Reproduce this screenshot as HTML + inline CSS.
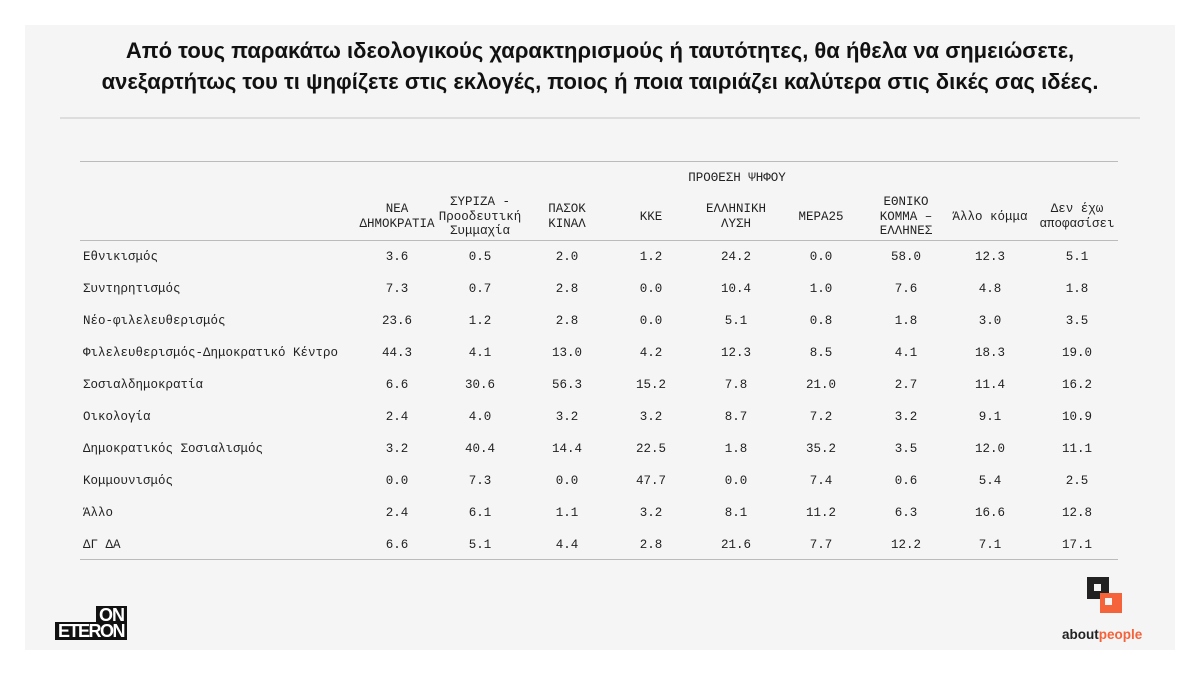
<!DOCTYPE html>
<html><head><meta charset="utf-8"><style>
body{margin:0;width:1200px;height:675px;background:#fff;position:relative;overflow:hidden;font-family:"Liberation Mono","DejaVu Sans Mono",monospace;color:#222}
.panel{position:absolute;left:25px;top:25px;width:1150px;height:625px;background:#f5f5f5}
.title{position:absolute;left:0;width:1200px;top:35px;text-align:center;font-family:"Liberation Sans",sans-serif;font-weight:bold;font-size:22px;line-height:31px;color:#111}
.hl{position:absolute;height:1px;background:#bbb}
.c{position:absolute;font-size:12.5px;text-align:center;line-height:14.5px;white-space:nowrap;transform:translateX(-50%)}
.l{position:absolute;left:83px;font-size:12.5px;white-space:nowrap}
</style></head><body>
<div class="panel"></div>
<div class="title">Από τους παρακάτω ιδεολογικούς χαρακτηρισμούς ή ταυτότητες, θα ήθελα να σημειώσετε,<br>ανεξαρτήτως του τι ψηφίζετε στις εκλογές, ποιος ή ποια ταιριάζει καλύτερα στις δικές σας ιδέες.</div>
<div class="hl" style="left:60px;width:1080px;top:117px;height:2px;background:#ddd"></div>
<div class="hl" style="left:80px;width:1038px;top:161px"></div>
<div class="hl" style="left:80px;width:1038px;top:240px"></div>
<div class="hl" style="left:80px;width:1038px;top:559px"></div>
<div class="c" style="left:737px;top:171px">ΠΡΟΘΕΣΗ ΨΗΦΟΥ</div>
<div class="c" style="left:397px;top:202px">ΝΕΑ<br>ΔΗΜΟΚΡΑΤΙΑ</div>
<div class="c" style="left:480px;top:195px">ΣΥΡΙΖΑ -<br>Προοδευτική<br>Συμμαχία</div>
<div class="c" style="left:567px;top:202px">ΠΑΣΟΚ<br>ΚΙΝΑΛ</div>
<div class="c" style="left:651px;top:210px">ΚΚΕ</div>
<div class="c" style="left:736px;top:202px">ΕΛΛΗΝΙΚΗ<br>ΛΥΣΗ</div>
<div class="c" style="left:821px;top:210px">ΜΕΡΑ25</div>
<div class="c" style="left:906px;top:195px">ΕΘΝΙΚΟ<br>ΚΟΜΜΑ –<br>ΕΛΛΗΝΕΣ</div>
<div class="c" style="left:990px;top:210px">Άλλο κόμμα</div>
<div class="c" style="left:1077px;top:202px">Δεν έχω<br>αποφασίσει</div>
<div id="rows"></div>
<script>
var d=[["Εθνικισμός","3.6 0.5 2.0 1.2 24.2 0.0 58.0 12.3 5.1"],["Συντηρητισμός","7.3 0.7 2.8 0.0 10.4 1.0 7.6 4.8 1.8"],["Νέο-φιλελευθερισμός","23.6 1.2 2.8 0.0 5.1 0.8 1.8 3.0 3.5"],["Φιλελευθερισμός-Δημοκρατικό Κέντρο","44.3 4.1 13.0 4.2 12.3 8.5 4.1 18.3 19.0"],["Σοσιαλδημοκρατία","6.6 30.6 56.3 15.2 7.8 21.0 2.7 11.4 16.2"],["Οικολογία","2.4 4.0 3.2 3.2 8.7 7.2 3.2 9.1 10.9"],["Δημοκρατικός Σοσιαλισμός","3.2 40.4 14.4 22.5 1.8 35.2 3.5 12.0 11.1"],["Κομμουνισμός","0.0 7.3 0.0 47.7 0.0 7.4 0.6 5.4 2.5"],["Άλλο","2.4 6.1 1.1 3.2 8.1 11.2 6.3 16.6 12.8"],["ΔΓ ΔΑ","6.6 5.1 4.4 2.8 21.6 7.7 12.2 7.1 17.1"]];
var xs=[397,480,567,651,736,821,906,990,1077],h="";
d.forEach(function(r,i){var y=249+i*32;h+='<div class="l" style="top:'+(y+1)+'px">'+r[0]+'</div>';r[1].split(" ").forEach(function(v,j){h+='<div class="c" style="left:'+xs[j]+'px;top:'+(y+1)+'px">'+v+'</div>'})});
document.getElementById("rows").innerHTML=h;
</script>
<div style="position:absolute;left:96px;top:606px;width:31px;height:18px;background:#111;color:#fff;font:bold 18px/18px 'Liberation Sans',sans-serif;text-align:center;letter-spacing:-1px">ON</div>
<div style="position:absolute;left:55px;top:622px;width:72px;height:18px;background:#111;color:#fff;font:bold 18px/18px 'Liberation Sans',sans-serif;text-align:center;letter-spacing:-1.5px">ETERON</div>
<div style="position:absolute;left:1087px;top:577px;width:22px;height:22px;background:#222"></div>
<div style="position:absolute;left:1094px;top:584px;width:7px;height:7px;background:#f5f5f5"></div>
<div style="position:absolute;left:1100px;top:593px;width:22px;height:20px;background:#f4633a"></div>
<div style="position:absolute;left:1105px;top:598px;width:7px;height:7px;background:#f5f5f5"></div>
<div style="position:absolute;left:1062px;top:627px;font:bold 13.5px 'Liberation Sans',sans-serif;color:#222;letter-spacing:0px">about<span style="color:#f4633a">people</span></div>
</body></html>
